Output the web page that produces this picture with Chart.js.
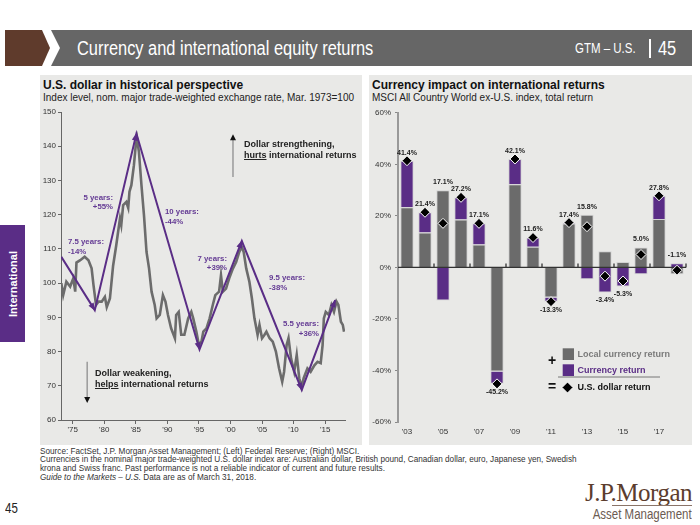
<!DOCTYPE html>
<html lang="en">
<head>
<meta charset="utf-8">
<title>Currency and international equity returns</title>
<script src="https://cdn.jsdelivr.net/npm/chart.js@4.4.1/dist/chart.umd.min.js"></script>
<style>
  html, body { margin: 0; padding: 0; background: #fff; }
  body { position: relative; width: 700px; height: 525px; overflow: hidden;
         font-family: "Liberation Sans", Arial, sans-serif; color: #222; }
  .abs { position: absolute; white-space: nowrap; }
  .condL { transform-origin: 0 50%; transform: scaleX(0.82); }
  .condR { transform-origin: 100% 50%; transform: scaleX(0.82); }
  #brand { left: 5px; top: 30px; width: 46px; height: 36px; background: #5f3b2c;
           clip-path: polygon(0 0, 37px 0, 45px 18px, 37px 36px, 0 36px); }
  #bar { left: 51px; top: 30px; width: 641px; height: 36px; background: #666;
         clip-path: polygon(0 0, 641px 0, 641px 36px, 0 36px, 9px 18px); }
  #title { left: 77px; top: 37px; font-size: 20px; line-height: 22px; color: #fff; }
  #gtm { left: 575px; top: 40px; font-size: 14px; line-height: 16px; color: #fff; }
  #sep { left: 649px; top: 39px; width: 2px; height: 19px; background: #fff; }
  #page { left: 658px; top: 37px; font-size: 20px; line-height: 22px; color: #fff; }
  #tab { left: 0; top: 225px; width: 25px; height: 117px; background: #5a2d86; }
  #tab span { position: absolute; left: 50%; top: 50%; transform: translate(-50%, -50%) rotate(-90deg);
              color: #fff; font-weight: bold; font-size: 11px; white-space: nowrap; }
  .panel { top: 75px; height: 370px; background: #e9e9e7; }
  #panelL { left: 40px; width: 322px; }
  #panelR { left: 369px; width: 323px; }
  .ptitle { font-weight: bold; font-size: 12px; line-height: 14px; color: #111; }
  .psub { font-size: 10px; line-height: 11px; color: #222; }
  .plab { font-weight: bold; font-size: 7.8px; line-height: 9.5px; color: #643b94; }
  .blab { font-weight: bold; font-size: 9px; line-height: 11.5px; color: #222; }
  .blab u { text-decoration-thickness: 1px; text-underline-offset: 1px; }
  #foot { left: 40px; top: 447.5px; font-size: 8.2px; line-height: 8.9px; color: #333; }
  #pnum { left: 5px; top: 500px; font-size: 14px; line-height: 16px; color: #222; }
  #jpm { right: 8px; top: 479px; font-family: "Liberation Serif", "Times New Roman", serif;
         font-size: 25px; line-height: 28px; color: #5c3d2e; letter-spacing: -0.5px; }
  #jpmline { left: 612px; top: 505px; width: 80px; height: 1px; background: #8a7468; }
  #am { right: 8px; top: 507px; font-size: 14px; line-height: 15px; color: #6b5b52; }
  .cv { position: absolute; }
</style>
</head>
<body>
<script>
// ---- left chart: U.S. dollar index (Mar. 1973 = 100) ----
const dollarYears = [1973.2, 1973.5, 1974.0, 1974.6, 1975.1, 1975.4, 1975.6, 1976.2, 1976.9, 1977.5,
  1978.0, 1978.3, 1978.7, 1979.1, 1979.6, 1980.1, 1980.4, 1980.9, 1981.4, 1981.9,
  1982.2, 1982.5, 1982.7, 1983.0, 1983.5, 1983.8, 1984.0, 1984.3, 1984.7, 1985.0,
  1985.2, 1985.5, 1985.9, 1986.3, 1986.7, 1987.1, 1987.5, 1988.0, 1988.3, 1988.8,
  1989.3, 1989.7, 1990.1, 1990.6, 1991.2, 1991.4, 1991.8, 1992.2, 1992.7, 1993.3,
  1993.8, 1994.1, 1994.6, 1995.0, 1995.4, 1995.7, 1996.2, 1996.7, 1997.2, 1997.6,
  1998.2, 1998.5, 1998.8, 1999.3, 1999.8, 2000.4, 2000.9, 2001.4, 2001.8, 2002.1,
  2002.5, 2003.0, 2003.4, 2003.8, 2004.3, 2004.6, 2005.0, 2005.4, 2005.7, 2006.2,
  2006.7, 2007.2, 2007.7, 2008.2, 2008.5, 2008.9, 2009.2, 2009.6, 2010.1, 2010.5,
  2010.9, 2011.3, 2011.6, 2012.2, 2012.7, 2013.3, 2013.8, 2014.3, 2014.6, 2014.8,
  2015.1, 2015.6, 2016.0, 2016.4, 2016.8, 2017.1, 2017.5, 2017.8, 2018.0];
const dollarIndex = [100, 96.5, 100.4, 99, 101.4, 97.5, 106, 106.7, 107.7, 106.7,
  104.3, 99.4, 93.6, 94.6, 94.6, 96, 93, 95.5, 105, 111,
  115, 118.9, 117, 122.8, 123.7, 122, 126.7, 128.6, 134.4, 140.3,
  142.2, 138.3, 128.6, 119.8, 109.1, 104.3, 97.5, 93.6, 89.7, 90.7,
  96.5, 94.6, 90.7, 86.8, 83.9, 90.7, 91.6, 84.9, 84.9, 89.7,
  91.6, 89.7, 85.8, 81.9, 82.9, 85.8, 86.8, 89.7, 93.6, 96.5,
  97.5, 102.3, 97.5, 98.4, 101.4, 104.3, 106.2, 109.1, 110.6, 109.1,
  104.3, 100.4, 95.5, 89.7, 84.9, 87.8, 83.9, 84.9, 85.8, 83.9,
  82.9, 80, 75.1, 71.2, 74.1, 81.9, 83.9, 78, 74.1, 79,
  72.2, 69.7, 72.2, 75.1, 74.1, 76, 77, 76.6, 81.9, 89.7,
  91.6, 90.7, 93.6, 91.6, 94.6, 93.6, 88.7, 87.8, 85.8];
const trendYears = [1973.2, 1978.5, 1985.1, 1995.1, 2001.8, 2011.3, 2016.6];
const trendValues = [107.7, 92.1, 143.7, 80.6, 112.3, 68.8, 95.0];
const dollarTickYears = [1975, 1980, 1985, 1990, 1995, 2000, 2005, 2010, 2015];

// ---- right chart: MSCI ACWI ex-U.S. returns, % ----
const returnYears = ['2003', '2004', '2005', '2006', '2007', '2008', '2009', '2010',
  '2011', '2012', '2013', '2014', '2015', '2016', '2017', '2018'];
const localReturn = [23.3, 13.5, 29.9, 18.6, 8.9, -40.4, 32.3, 8.0, -11.7, 17.0, 20.4, 6.3, 2.1, 7.7, 18.8, -2.7];
const currencyReturn = [18.1, 7.9, -12.8, 8.6, 8.2, -4.8, 9.8, 3.6, -1.6, 0.4, -4.6, -9.7, -7.4, -2.7, 9.0, 1.6];
const usdReturn = [41.4, 21.4, 17.1, 27.2, 17.1, -45.2, 42.1, 11.6, -13.3, 17.4, 15.8, -3.4, -5.3, 5.0, 27.8, -1.1];
</script>

<div id="brand" class="abs"></div>
<div id="bar" class="abs"></div>
<div id="title" class="abs condL">Currency and international equity returns</div>
<div id="gtm" class="abs condL">GTM – U.S.</div>
<div id="sep" class="abs"></div>
<div id="page" class="abs condL">45</div>

<div id="tab" class="abs"><span>International</span></div>

<div id="panelL" class="abs panel"></div>
<div id="panelR" class="abs panel"></div>

<div class="abs ptitle" style="left:43px; top:78px;">U.S. dollar in historical perspective</div>
<div class="abs psub" style="left:43px; top:92px;">Index level, nom. major trade-weighted exchange rate, Mar. 1973=100</div>
<div class="abs ptitle" style="left:372px; top:78px;">Currency impact on international returns</div>
<div class="abs psub" style="left:372px; top:92px;">MSCI All Country World ex-U.S. index, total return</div>

<canvas id="leftChart" class="cv" width="322" height="336" style="left:40px; top:104px;"></canvas>
<canvas id="rightChart" class="cv" width="324" height="340" style="left:368px; top:104px;"></canvas>

<div class="abs plab" style="left:68px; top:237px;">7.5 years:<br>-14%</div>
<div class="abs plab" style="right:587px; top:192.5px; text-align:right;">5 years:<br>+55%</div>
<div class="abs plab" style="left:165px; top:207px;">10 years:<br>-44%</div>
<div class="abs plab" style="right:473px; top:253.5px; text-align:right;">7 years:<br>+39%</div>
<div class="abs plab" style="left:269px; top:273px;">9.5 years:<br>-38%</div>
<div class="abs plab" style="right:381px; top:319px; text-align:right;">5.5 years:<br>+36%</div>

<div class="abs blab" style="left:244px; top:138.5px;">Dollar strengthening,<br><u>hurts</u> international returns</div>
<div class="abs blab" style="left:95px; top:367.5px;">Dollar weakening,<br><u>helps</u> international returns</div>

<div id="foot" class="abs">Source: FactSet, J.P. Morgan Asset Management; (Left) Federal Reserve; (Right) MSCI.<br>Currencies in the nominal major trade-weighted U.S. dollar index are: Australian dollar, British pound, Canadian dollar, euro, Japanese yen, Swedish<br>krona and Swiss franc. Past performance is not a reliable indicator of current and future results.<br><i>Guide to the Markets – U.S.</i> Data are as of March 31, 2018.</div>

<div id="pnum" class="abs condL">45</div>
<div id="jpm" class="abs">J.P.Morgan</div>
<div id="jpmline" class="abs"></div>
<div id="am" class="abs condR">Asset Management</div>

<script>
const purple = '#5a2d86';
const barGray = '#6b6b6b';
Chart.defaults.font.family = '"Liberation Sans", Arial, sans-serif';
Chart.defaults.font.size = 8;
Chart.defaults.color = '#333';

function arrow(ctx, x, yFrom, yTo) {
  const dir = yTo < yFrom ? -1 : 1;
  ctx.strokeStyle = '#9a9a9a';
  ctx.lineWidth = 1.5;
  ctx.beginPath();
  ctx.moveTo(x, yFrom);
  ctx.lineTo(x, yTo - dir * 4);
  ctx.stroke();
  ctx.fillStyle = '#111';
  ctx.beginPath();
  ctx.moveTo(x, yTo);
  ctx.lineTo(x - 3, yTo - dir * 6);
  ctx.lineTo(x + 3, yTo - dir * 6);
  ctx.closePath();
  ctx.fill();
}

// arrowheads on the trend line + strengthening / weakening arrows
const leftDecor = {
  id: 'leftDecor',
  afterDatasetsDraw(chart) {
    const { ctx, scales: { x, y } } = chart;
    ctx.save();
    ctx.fillStyle = purple;
    for (let i = 1; i < trendYears.length; i++) {
      const x0 = x.getPixelForValue(trendYears[i - 1]), y0 = y.getPixelForValue(trendValues[i - 1]);
      const x1 = x.getPixelForValue(trendYears[i]), y1 = y.getPixelForValue(trendValues[i]);
      const a = Math.atan2(y1 - y0, x1 - x0);
      ctx.beginPath();
      ctx.moveTo(x1 + Math.cos(a), y1 + Math.sin(a));
      ctx.lineTo(x1 - 7 * Math.cos(a) + 3 * Math.sin(a), y1 - 7 * Math.sin(a) - 3 * Math.cos(a));
      ctx.lineTo(x1 - 7 * Math.cos(a) - 3 * Math.sin(a), y1 - 7 * Math.sin(a) + 3 * Math.cos(a));
      ctx.closePath();
      ctx.fill();
    }
    arrow(ctx, x.getPixelForValue(2000.4), y.getPixelForValue(131), y.getPixelForValue(143.5));
    arrow(ctx, x.getPixelForValue(1977.3), y.getPixelForValue(77), y.getPixelForValue(65));
    ctx.restore();
  }
};

new Chart(document.getElementById('leftChart'), {
  type: 'line',
  data: {
    datasets: [
      {
        label: 'Trend',
        data: trendYears.map((t, i) => ({ x: t, y: trendValues[i] })),
        borderColor: purple,
        borderWidth: 2,
        pointRadius: 0,
        tension: 0,
        order: 0
      },
      {
        label: 'Dollar index',
        data: dollarYears.map((t, i) => ({ x: t, y: dollarIndex[i] })),
        borderColor: '#6c6c6c',
        borderWidth: 2.6,
        pointRadius: 0,
        tension: 0,
        order: 1
      }
    ]
  },
  options: {
    responsive: false,
    animation: false,
    devicePixelRatio: 1,
    layout: { padding: { top: 8, right: 17, left: 0, bottom: 0 } },
    plugins: { legend: { display: false }, tooltip: { enabled: false } },
    scales: {
      x: {
        type: 'linear',
        min: 1973.15,
        max: 2018.15,
        afterBuildTicks: s => { s.ticks = dollarTickYears.map(v => ({ value: v })); },
        afterFit: s => { s.height = 20; },
        ticks: { callback: v => "'" + String(v).slice(2), padding: 1, maxRotation: 0, autoSkip: false },
        grid: { drawOnChartArea: false, color: '#666', tickLength: 4 },
        border: { color: '#666', width: 1 }
      },
      y: {
        min: 60,
        max: 150,
        afterFit: s => { s.width = 21; },
        ticks: { stepSize: 10, padding: 2 },
        grid: { drawOnChartArea: false, color: '#666', tickLength: 3 },
        border: { color: '#666', width: 1 }
      }
    }
  },
  plugins: [leftDecor]
});

// zero line, value labels and the custom legend
const rightDecor = {
  id: 'rightDecor',
  afterDatasetDraw(chart, args) {
    if (args.index !== 1) return;
    const { ctx, chartArea, scales: { x, y } } = chart;
    const y0 = y.getPixelForValue(0);
    ctx.save();
    ctx.strokeStyle = '#333';
    ctx.lineWidth = 1.3;
    ctx.beginPath();
    ctx.moveTo(chartArea.left, y0);
    ctx.lineTo(chartArea.right, y0);
    for (let i = 1; i < returnYears.length; i += 2) {
      const xb = (x.getPixelForValue(i) + x.getPixelForValue(i + 1)) / 2;
      ctx.moveTo(xb, y0);
      ctx.lineTo(xb, y0 - 4);
    }
    ctx.stroke();
    ctx.restore();
  },
  afterDraw(chart) {
    const { ctx, scales: { x, y } } = chart;
    ctx.save();
    ctx.font = 'bold 7px "Liberation Sans", Arial, sans-serif';
    ctx.fillStyle = '#222';
    ctx.textAlign = 'center';
    ctx.textBaseline = 'middle';
    returnYears.forEach((yr, i) => {
      const parts = [localReturn[i], currencyReturn[i]];
      const pos = parts.filter(v => v > 0).reduce((a, b) => a + b, 0);
      const neg = parts.filter(v => v < 0).reduce((a, b) => a + b, 0);
      const usd = usdReturn[i];
      const px = x.getPixelForValue(i);
      const txt = usd.toFixed(1) + '%';
      if (usd > -2) {
        ctx.fillText(txt, px, y.getPixelForValue(Math.max(pos, usd)) - 8);
      } else {
        ctx.fillText(txt, px, y.getPixelForValue(Math.min(neg, usd)) + 8);
      }
    });

    // legend
    ctx.textAlign = 'left';
    ctx.fillStyle = '#111';
    ctx.font = 'bold 14px "Liberation Sans", Arial, sans-serif';
    ctx.fillText('+', 180, 257);
    ctx.fillText('=', 180, 283.5);
    ctx.fillStyle = barGray;
    ctx.fillRect(194.7, 244.3, 11.3, 11.7);
    ctx.fillStyle = purple;
    ctx.fillRect(194.7, 260.3, 11.3, 11.7);
    ctx.strokeStyle = '#777';
    ctx.lineWidth = 1;
    ctx.beginPath();
    ctx.moveTo(190, 273);
    ctx.lineTo(292, 273);
    ctx.stroke();
    ctx.fillStyle = '#000';
    ctx.strokeStyle = '#fff';
    ctx.beginPath();
    ctx.moveTo(199.5, 278);
    ctx.lineTo(205, 283.5);
    ctx.lineTo(199.5, 289);
    ctx.lineTo(194, 283.5);
    ctx.closePath();
    ctx.fill();
    ctx.stroke();
    ctx.font = 'bold 9px "Liberation Sans", Arial, sans-serif';
    ctx.fillStyle = '#7a7a7a';
    ctx.fillText('Local currency return', 209.5, 250.5);
    ctx.fillStyle = purple;
    ctx.fillText('Currency return', 209.5, 266.5);
    ctx.fillStyle = '#111';
    ctx.fillText('U.S. dollar return', 209.5, 283.5);
    ctx.restore();
  }
};

new Chart(document.getElementById('rightChart'), {
  type: 'bar',
  data: {
    labels: returnYears,
    datasets: [
      {
        type: 'line',
        label: 'U.S. dollar return',
        data: usdReturn,
        showLine: false,
        pointStyle: 'rectRot',
        pointRadius: 5,
        pointBackgroundColor: '#000',
        pointBorderColor: '#fff',
        pointBorderWidth: 1,
        stack: 'usd',
        order: 0
      },
      {
        label: 'Local currency return',
        data: localReturn,
        backgroundColor: barGray,
        borderColor: '#d2d2d2',
        borderWidth: 1,
        barPercentage: 0.74,
        categoryPercentage: 1,
        stack: 'ret',
        order: 1
      },
      {
        label: 'Currency return',
        data: currencyReturn,
        backgroundColor: purple,
        borderColor: '#d2d2d2',
        borderWidth: 1,
        barPercentage: 0.74,
        categoryPercentage: 1,
        stack: 'ret',
        order: 1
      }
    ]
  },
  options: {
    responsive: false,
    animation: false,
    devicePixelRatio: 1,
    layout: { padding: { top: 6, right: 6, left: 0, bottom: 0 } },
    plugins: { legend: { display: false }, tooltip: { enabled: false } },
    scales: {
      x: {
        stacked: true,
        afterFit: s => { s.height = 22; },
        grid: { display: false, drawTicks: false, tickLength: 0 },
        border: { display: false },
        ticks: {
          autoSkip: false,
          maxRotation: 0,
          padding: 5,
          callback: (v, i) => (i % 2 === 0 ? "'" + returnYears[i].slice(2) : '')
        }
      },
      y: {
        stacked: true,
        min: -60,
        max: 60,
        afterFit: s => { s.width = 30; },
        ticks: { stepSize: 20, padding: 4, callback: v => v + '%' },
        grid: { drawOnChartArea: false, color: '#888', tickLength: 3 },
        border: { color: '#999', width: 2 }
      }
    }
  },
  plugins: [rightDecor]
});
</script>
</body>
</html>
